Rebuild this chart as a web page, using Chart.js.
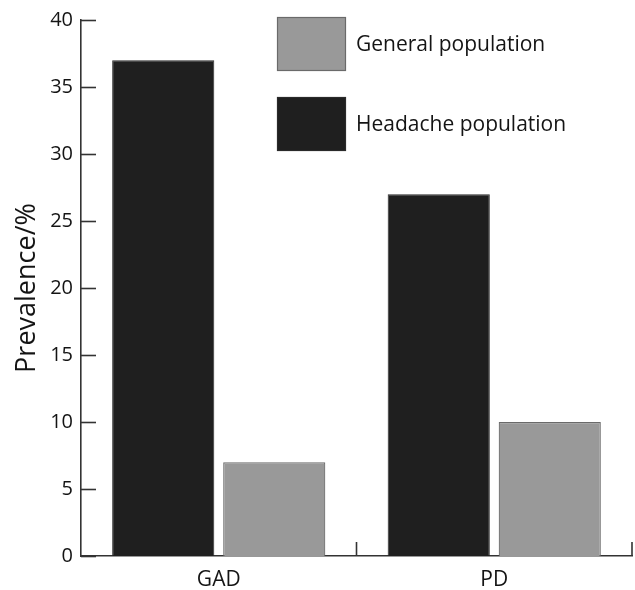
<!DOCTYPE html>
<html>
<head>
<meta charset="utf-8">
<script src="https://cdn.jsdelivr.net/npm/chart.js@4"></script>
<style>
  html, body { margin: 0; padding: 0; background: #fff; }
  #wrap { width: 635px; height: 590px; position: relative; }
</style>
</head>
<body>
<div id="wrap"><canvas id="chart"></canvas></div>
<script>
// Data
const categories = ['GAD', 'PD'];
const headacheValues = [37, 27];
const generalValues = [7, 10];
const seriesNames = ['Headache population', 'General population'];
const yMin = 0, yMax = 40, yStep = 5;

const FONT = '"Open Sans", sans-serif';
const INK = '#141414';

// Inward ticks on both axes plus the little category separators
const axisMarks = {
  id: 'axisMarks',
  afterDraw(chart) {
    const { ctx, scales: { x, y } } = chart;
    ctx.save();
    ctx.strokeStyle = '#333';
    ctx.lineWidth = 1.6;
    y.ticks.forEach((t, i) => {
      const py = Math.round(y.getPixelForTick(i)) + 0.5;
      ctx.beginPath();
      ctx.moveTo(x.left, py);
      ctx.lineTo(x.left + 15, py);
      ctx.stroke();
    });
    const half = (x.right - x.left) / categories.length / 2;
    categories.forEach((c, i) => {
      const px = x.getPixelForTick(i) + half;
      ctx.beginPath();
      ctx.moveTo(px, y.bottom);
      ctx.lineTo(px, y.bottom - 14);
      ctx.stroke();
    });
    ctx.restore();
  }
};

// Boxed legend in the upper middle, general population listed first
const boxLegend = {
  id: 'boxLegend',
  afterDraw(chart) {
    const ctx = chart.ctx;
    const items = chart.data.datasets.slice().reverse();
    ctx.save();
    ctx.font = '21px ' + FONT;
    ctx.textBaseline = 'middle';
    items.forEach((ds, i) => {
      const top = 17 + i * 80;
      ctx.fillStyle = ds.backgroundColor;
      ctx.fillRect(277, top, 69, 54);
      ctx.strokeStyle = ds.borderColor;
      ctx.lineWidth = 1.2;
      ctx.strokeRect(277.5, top + 0.5, 68, 53);
      ctx.fillStyle = INK;
      ctx.fillText(ds.label, 356, top + 28);
    });
    ctx.restore();
  }
};

new Chart(document.getElementById('chart'), {
  type: 'bar',
  data: {
    labels: categories,
    datasets: [
      {
        label: seriesNames[0],
        data: headacheValues,
        backgroundColor: '#1f1f1f',
        borderColor: '#2a2a2a',
        borderWidth: 1
      },
      {
        label: seriesNames[1],
        data: generalValues,
        backgroundColor: '#999999',
        borderColor: '#6a6a6a',
        borderWidth: 1.2
      }
    ]
  },
  options: {
    responsive: true,
    maintainAspectRatio: false,
    animation: false,
    devicePixelRatio: 1,
    categoryPercentage: 0.806,
    barPercentage: 0.92,
    layout: { padding: { top: 20, right: 3, left: 0, bottom: 0 } },
    plugins: {
      legend: { display: false },
      tooltip: { enabled: false }
    },
    scales: {
      x: {
        grid: { display: false, drawTicks: false },
        border: { display: true, color: '#333', width: 1.6 },
        ticks: { color: INK, font: { family: FONT, size: 21 }, padding: 11 },
        afterFit: s => { s.height = 34; }
      },
      y: {
        min: yMin,
        max: yMax,
        grid: { display: false, drawTicks: false },
        border: { display: true, color: '#333', width: 1.6 },
        ticks: { stepSize: yStep, color: INK, font: { family: FONT, size: 20 }, padding: 8 },
        title: {
          display: true,
          text: 'Prevalence/%',
          color: INK,
          font: { family: FONT, size: 27 },
          padding: { top: 11, bottom: 0 }
        },
        afterFit: s => { s.width = 81; }
      }
    }
  },
  plugins: [axisMarks, boxLegend]
});
</script>
</body>
</html>
